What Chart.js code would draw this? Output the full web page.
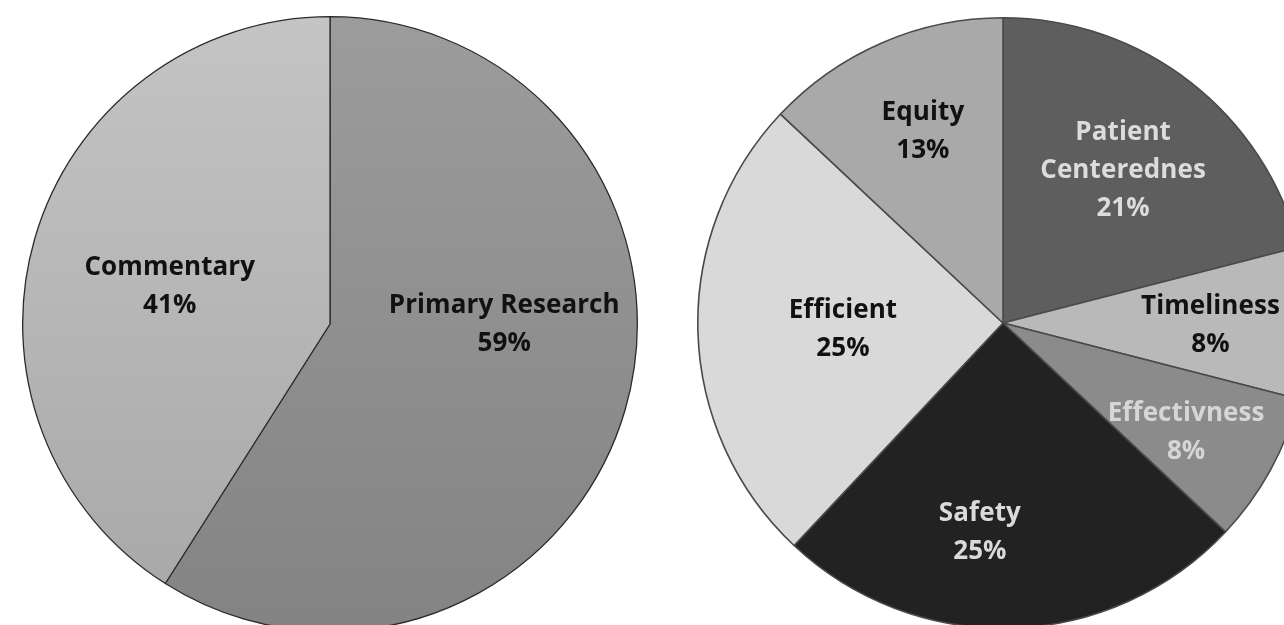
<!DOCTYPE html>
<html lang="en">
<head>
    <meta charset="UTF-8">
    <title>Article types and quality domains</title>
    <script src="https://cdn.jsdelivr.net/npm/chart.js"></script>
    <style>
        html, body {
            margin: 0;
            padding: 0;
            background: #fff;
            overflow: hidden;
            width: 1284px;
            height: 625px;
        }
        canvas {
            position: absolute;
        }
        #typeChart { left: 22px; top: 16px; }
        #domainChart { left: 697px; top: 17px; }
    </style>
</head>
<body>
    <canvas id="typeChart" width="616" height="616"></canvas>
    <canvas id="domainChart" width="612" height="612"></canvas>

    <script>
        const typeLabels = ['Primary Research', 'Commentary'];
        const typeValues = [59, 41];

        const domainLabels = [['Patient', 'Centerednes'], 'Timeliness', 'Effectivness', 'Safety', 'Efficient', 'Equity'];
        const domainValues = [21, 8, 8, 25, 25, 13];

        // fills (left pie has a soft top-to-bottom shade)
        const typeTop = ['#9c9c9c', '#c4c4c4'];
        const typeBottom = ['#838383', '#a7a7a7'];
        const typeText = ['#111111', '#111111'];
        const domainColors = ['#5e5e5e', '#b9b9b9', '#8b8b8b', '#222222', '#d9d9d9', '#a9a9a9'];
        const domainText = ['#dcdcdc', '#111111', '#d6d6d6', '#dadada', '#111111', '#111111'];

        // label placement: [fraction of radius, shift in degrees from slice middle]
        const typePlace = [[0.567, -15.9], [0.535, -3.2]];
        const domainPlace = [[0.635, 0.5], [0.68, 0.8], [0.70, 2.2], [0.69, 8.1], [0.525, -0.7], [0.68, 0.7]];

        const sliceLabels = {
            id: 'sliceLabels',
            afterDatasetsDraw(chart, args, opts) {
                const ctx = chart.ctx;
                const meta = chart.getDatasetMeta(0);
                const data = chart.data.datasets[0].data;
                ctx.save();
                ctx.font = 'bold 26px "Open Sans"';
                ctx.letterSpacing = '0.1px';
                ctx.textAlign = 'center';
                ctx.textBaseline = 'middle';
                meta.data.forEach((arc, i) => {
                    const p = arc.getProps(['x', 'y', 'startAngle', 'endAngle', 'outerRadius']);
                    const [f, shift] = opts.place[i];
                    const a = (p.startAngle + p.endAngle) / 2 + shift * Math.PI / 180;
                    const cx = p.x + Math.cos(a) * p.outerRadius * f;
                    const cy = p.y + Math.sin(a) * p.outerRadius * f;
                    let lines = chart.data.labels[i];
                    lines = Array.isArray(lines) ? lines.slice() : [lines];
                    lines.push(data[i] + '%');
                    ctx.fillStyle = opts.colors[i];
                    const lh = 38;
                    lines.forEach((t, k) => {
                        ctx.fillText(t, cx, cy + (k - (lines.length - 1) / 2) * lh);
                    });
                });
                ctx.restore();
            }
        };

        function shade(c) {
            const area = c.chart.chartArea;
            if (!area) return typeTop[c.dataIndex];
            const g = c.chart.ctx.createLinearGradient(0, area.top, 0, area.bottom);
            g.addColorStop(0, typeTop[c.dataIndex]);
            g.addColorStop(1, typeBottom[c.dataIndex]);
            return g;
        }

        const common = {
            responsive: false,
            animation: false,
            events: [],
            layout: { padding: 0 },
            plugins: {
                legend: { display: false },
                tooltip: { enabled: false }
            }
        };

        new Chart(document.getElementById('typeChart'), {
            type: 'pie',
            data: {
                labels: typeLabels,
                datasets: [{
                    data: typeValues,
                    backgroundColor: shade,
                    borderColor: '#2b2b2b',
                    borderWidth: 1.3
                }]
            },
            options: {
                ...common,
                plugins: { ...common.plugins, sliceLabels: { place: typePlace, colors: typeText } }
            },
            plugins: [sliceLabels]
        });

        new Chart(document.getElementById('domainChart'), {
            type: 'pie',
            data: {
                labels: domainLabels,
                datasets: [{
                    data: domainValues,
                    backgroundColor: domainColors,
                    borderColor: '#4a4a4a',
                    borderWidth: 1.6
                }]
            },
            options: {
                ...common,
                plugins: { ...common.plugins, sliceLabels: { place: domainPlace, colors: domainText } }
            },
            plugins: [sliceLabels]
        });
    </script>
</body>
</html>
